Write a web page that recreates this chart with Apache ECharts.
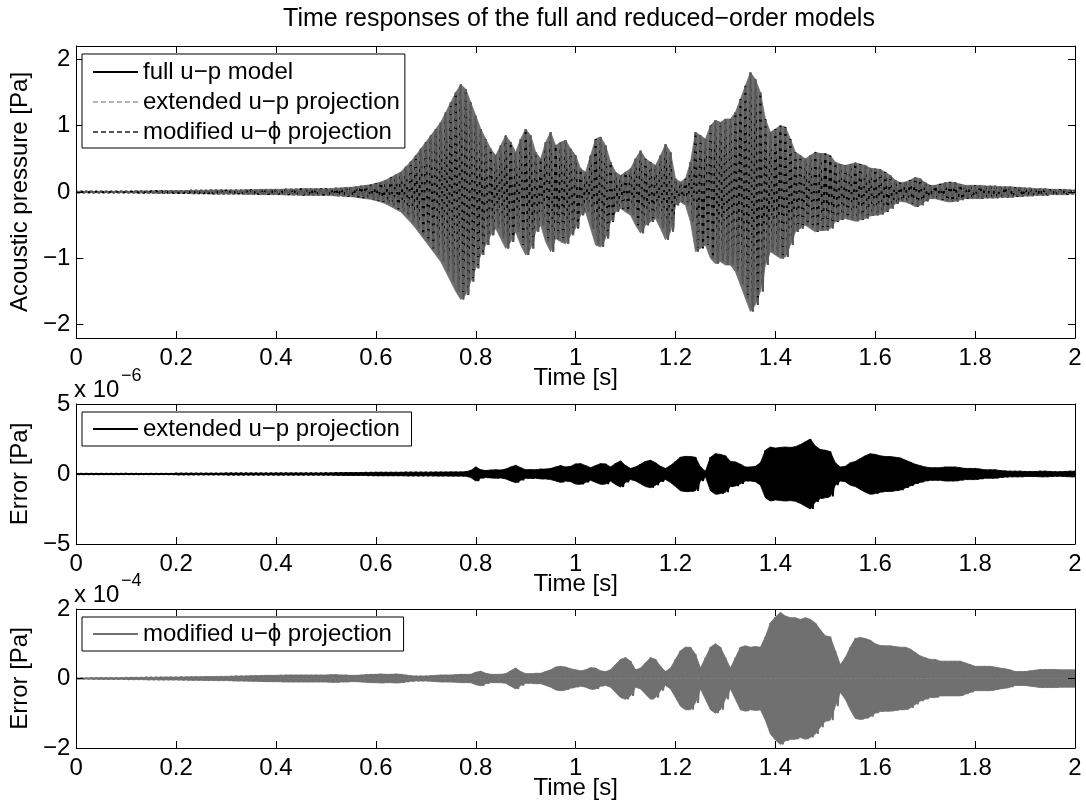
<!DOCTYPE html>
<html>
<head>
<meta charset="utf-8">
<script src="https://cdn.jsdelivr.net/npm/echarts@6/dist/echarts.min.js"></script>
<style>
html,body{margin:0;padding:0;background:#fff;}
#chart{width:1086px;height:805px;}
</style>
</head>
<body>
<div id="chart"></div>
<script>
// Sample step of the amplitude envelopes (s); one value per 0.01 s from 0 to 2 s
const sampleStep = 0.01;
const xTicks = [0, 0.2, 0.4, 0.6, 0.8, 1, 1.2, 1.4, 1.6, 1.8, 2];
const yTicksP = [-2, -1, 0, 1, 2];
const yTicksE1 = [-5, 0, 5];
const yTicksE2 = [-2, 0, 2];

// Panel 1: oscillation amplitude of acoustic pressure [Pa]
const ampPressure = [
 0.01,0.01,0.01,0.01,0.01,0.01,0.01,0.01,0.01,0.01,
 0.01,0.01,0.015,0.015,0.015,0.015,0.02,0.02,0.02,0.02,
 0.02,0.02,0.02,0.025,0.025,0.025,0.025,0.03,0.03,0.03,
 0.03,0.03,0.03,0.03,0.035,0.035,0.035,0.04,0.04,0.04,
 0.04,0.04,0.045,0.045,0.045,0.05,0.05,0.05,0.05,0.05,
 0.05,0.05,0.06,0.06,0.07,0.07,0.08,0.09,0.1,0.11,
 0.13,0.15,0.18,0.22,0.26,0.3,0.38,0.46,0.55,0.65,
 0.75,0.85,0.95,1.05,1.2,1.35,1.5,1.62,1.55,1.35,
 1.15,0.95,0.8,0.65,0.55,0.7,0.85,0.75,0.6,0.8,
 0.95,0.85,0.6,0.5,0.75,0.9,0.7,0.75,0.78,0.65,
 0.55,0.35,0.3,0.55,0.8,0.83,0.7,0.45,0.3,0.25,
 0.3,0.35,0.5,0.62,0.5,0.45,0.4,0.55,0.72,0.6,
 0.2,0.15,0.2,0.45,0.9,0.85,0.8,1.0,1.08,1.05,
 1.1,1.1,1.2,1.4,1.6,1.8,1.7,1.5,1.1,0.9,
 0.95,1.0,0.98,0.8,0.6,0.55,0.5,0.55,0.6,0.58,
 0.58,0.55,0.45,0.42,0.4,0.42,0.44,0.42,0.4,0.36,
 0.35,0.34,0.3,0.25,0.18,0.14,0.15,0.18,0.22,0.2,
 0.14,0.1,0.1,0.12,0.14,0.15,0.14,0.12,0.1,0.1,
 0.1,0.1,0.09,0.09,0.09,0.08,0.08,0.08,0.07,0.07,
 0.06,0.06,0.05,0.05,0.05,0.04,0.04,0.04,0.04,0.03,
 0.03
];

// Panel 2: error amplitude of extended u-p projection [x 1e-6 Pa]
const ampErrExt = [
 0.02,0.02,0.02,0.02,0.02,0.02,0.02,0.02,0.02,0.02,
 0.03,0.03,0.03,0.03,0.03,0.03,0.03,0.03,0.03,0.03,
 0.05,0.05,0.05,0.05,0.05,0.05,0.05,0.05,0.05,0.05,
 0.06,0.06,0.06,0.06,0.06,0.06,0.06,0.06,0.06,0.06,
 0.07,0.07,0.07,0.07,0.07,0.07,0.07,0.07,0.07,0.07,
 0.08,0.08,0.09,0.09,0.1,0.1,0.1,0.1,0.11,0.11,
 0.12,0.12,0.12,0.12,0.12,0.12,0.13,0.13,0.13,0.13,
 0.13,0.13,0.14,0.14,0.14,0.15,0.15,0.15,0.16,0.25,
 0.5,0.3,0.25,0.28,0.3,0.28,0.35,0.5,0.62,0.45,
 0.3,0.32,0.3,0.35,0.35,0.4,0.5,0.6,0.5,0.55,
 0.72,0.74,0.6,0.45,0.6,0.74,0.72,0.5,0.75,0.93,
 0.6,0.4,0.5,0.7,0.9,0.98,0.8,0.55,0.4,0.6,
 0.9,1.2,1.26,1.25,1.2,0.5,0.2,1.2,1.45,1.4,
 1.3,0.9,0.86,0.7,0.5,0.5,0.55,0.8,1.7,1.93,
 1.85,1.9,1.93,1.9,1.95,2.1,2.3,2.5,2.0,1.75,
 1.7,1.6,0.8,0.5,0.55,0.8,0.9,1.1,1.3,1.45,
 1.4,1.3,1.25,1.25,1.2,1.15,1.0,0.85,0.7,0.6,
 0.5,0.45,0.45,0.45,0.5,0.5,0.5,0.45,0.4,0.4,
 0.4,0.35,0.3,0.3,0.3,0.25,0.22,0.2,0.2,0.2,
 0.18,0.18,0.18,0.2,0.2,0.18,0.16,0.16,0.18,0.2,
 0.2
];

// Panel 3: error amplitude of modified u-phi projection [x 1e-4 Pa]
const ampErrMod = [
 0.01,0.01,0.01,0.015,0.015,0.02,0.02,0.02,0.02,0.02,
 0.025,0.03,0.03,0.03,0.035,0.035,0.035,0.04,0.04,0.04,
 0.04,0.045,0.045,0.05,0.05,0.05,0.055,0.055,0.06,0.06,
 0.06,0.065,0.07,0.07,0.075,0.08,0.08,0.085,0.09,0.09,
 0.09,0.095,0.1,0.1,0.1,0.1,0.1,0.1,0.1,0.1,
 0.1,0.11,0.11,0.1,0.1,0.09,0.09,0.1,0.11,0.12,
 0.12,0.13,0.12,0.12,0.13,0.12,0.1,0.08,0.07,0.07,
 0.07,0.08,0.09,0.1,0.1,0.1,0.11,0.12,0.12,0.12,
 0.18,0.21,0.15,0.12,0.12,0.12,0.14,0.22,0.3,0.2,
 0.14,0.14,0.15,0.15,0.2,0.25,0.33,0.35,0.33,0.28,
 0.25,0.22,0.25,0.31,0.3,0.22,0.2,0.25,0.4,0.55,
 0.6,0.5,0.25,0.3,0.45,0.6,0.55,0.35,0.2,0.3,
 0.55,0.8,0.9,0.9,0.7,0.3,0.6,0.9,1.0,0.9,
 0.6,0.3,0.6,0.9,0.94,0.9,0.92,0.9,1.2,1.6,
 1.77,1.9,1.8,1.75,1.75,1.7,1.75,1.7,1.6,1.4,
 1.23,1.2,0.8,0.4,0.6,0.9,1.15,1.18,1.15,1.1,
 1.0,0.95,0.94,0.94,0.92,0.9,0.9,0.85,0.75,0.65,
 0.6,0.55,0.55,0.5,0.5,0.5,0.5,0.5,0.45,0.4,
 0.35,0.35,0.35,0.35,0.33,0.3,0.28,0.25,0.2,0.2,
 0.2,0.22,0.24,0.26,0.26,0.26,0.26,0.25,0.25,0.25,
 0.25
];

// Oscillating trace: each envelope sample gives a crest and a trough
function oscillation(amps) {
  const pts = [];
  for (let i = 0; i < amps.length; i++) {
    const t = +(i * sampleStep).toFixed(3);
    pts.push([t, amps[i]]);
    if (i < amps.length - 1) pts.push([+(t + sampleStep / 2).toFixed(4), -amps[i]]);
  }
  return pts;
}
// Envelope (upper or lower) of the same samples
function envelope(amps, sign) {
  return amps.map((a, i) => [+(i * sampleStep).toFixed(3), sign * a]);
}

const FONT = "'Liberation Sans', Arial, Helvetica, sans-serif";
const fs = 24;
const minusFmt = v => String(v).replace('-', '\u2212');

const grids = [
  {left: 74, right: 11, top: 46, height: 292},
  {left: 74, right: 11, top: 404, height: 140},
  {left: 74, right: 11, top: 609, height: 139}
];

function xAxes(gi) {
  return [
    {type: 'value', gridIndex: gi, min: 0, max: 2, interval: 0.2, position: 'bottom',
     name: 'Time [s]', nameLocation: 'middle', nameGap: 28, nameMoveOverlap: false,
     nameTextStyle: {fontFamily: FONT, fontSize: fs, color: '#000', lineHeight: 24},
     axisLine: {show: true, onZero: false, lineStyle: {color: '#000', width: 1}},
     axisTick: {show: true, inside: true, length: 7, lineStyle: {color: '#000'}},
     axisLabel: {show: true, fontFamily: FONT, fontSize: fs, color: '#000', margin: 8},
     splitLine: {show: false}, z: 10},
    {type: 'value', gridIndex: gi, min: 0, max: 2, interval: 0.2, position: 'top',
     axisLine: {show: true, onZero: false, lineStyle: {color: '#000', width: 1}},
     axisTick: {show: true, inside: true, length: 7, lineStyle: {color: '#000'}},
     axisLabel: {show: false}, splitLine: {show: false}, z: 10}
  ];
}

function yAxes(gi, min, max, ticks, name) {
  const common = {type: 'value', gridIndex: gi, min: min, max: max, splitLine: {show: false}, z: 10};
  return [
    Object.assign({}, common, {position: 'left',
     name: name, nameLocation: 'middle', nameGap: 40,
     nameTextStyle: {fontFamily: FONT, fontSize: fs, color: '#000'},
     axisLine: {show: true, onZero: false, lineStyle: {color: '#000', width: 1}},
     axisTick: {show: true, inside: true, length: 7, customValues: ticks, lineStyle: {color: '#000'}},
     axisLabel: {show: true, customValues: ticks, fontFamily: FONT, fontSize: fs, color: '#000', margin: 6, formatter: minusFmt}}),
    Object.assign({}, common, {position: 'right',
     axisLine: {show: true, onZero: false, lineStyle: {color: '#000', width: 1}},
     axisTick: {show: true, inside: true, length: 7, customValues: ticks, lineStyle: {color: '#000'}},
     axisLabel: {show: false}})
  ];
}

const legendCommon = {
  orient: 'vertical', left: 82, backgroundColor: '#fff', borderColor: '#000', borderWidth: 1,
  borderRadius: 0, itemWidth: 45, itemHeight: 24, itemGap: 6, selectedMode: false,
  padding: [5, 5, 5, 10], z: 20,
  itemStyle: {color: 'transparent', borderWidth: 0, opacity: 0},
  lineStyle: {width: 2},
  textStyle: {fontFamily: FONT, fontSize: fs, color: '#000'}
};

const dataP = oscillation(ampPressure);
const dataE1 = oscillation(ampErrExt);
const dataE2 = oscillation(ampErrMod);

const lineCommon = {type: 'line', showSymbol: false, symbol: 'none', animation: false, silent: true};

function envSeries(amps, sign, axis, color) {
  return Object.assign({}, lineCommon, {name: 'env', xAxisIndex: axis, yAxisIndex: axis,
    data: envelope(amps, sign), z: 1,
    lineStyle: {width: 0.8, color: color}, itemStyle: {color: color},
    areaStyle: {color: color, opacity: 1, origin: 0}});
}

const option = {
  animation: false,
  backgroundColor: '#fff',
  title: {text: 'Time responses of the full and reduced\u2212order models', left: 574, top: 2,
    textAlign: 'center',
    textStyle: {fontFamily: FONT, fontSize: 25, fontWeight: 'normal', color: '#000'}},
  grid: grids,
  xAxis: [].concat(xAxes(0), xAxes(1), xAxes(2)),
  yAxis: [].concat(
    yAxes(0, -2.2, 2.2, yTicksP, 'Acoustic pressure [Pa]'),
    yAxes(1, -5, 5, yTicksE1, 'Error [Pa]'),
    yAxes(2, -2, 2, yTicksE2, 'Error [Pa]')),
  legend: [
    Object.assign({}, legendCommon, {top: 54, padding: [6, 5, 4, 10],
      data: ['full u\u2212p model', 'extended u\u2212p projection', 'modified u\u2212\u03d5 projection']}),
    Object.assign({}, legendCommon, {top: 412, data: ['extended u\u2212p projection ']}),
    Object.assign({}, legendCommon, {top: 617, data: ['modified u\u2212\u03d5 projection ']})
  ],
  graphic: [
    {type: 'text', left: 74, top: 378, style: {text: 'x 10', font: fs + 'px ' + FONT, fill: '#000'}},
    {type: 'text', left: 121, top: 367, style: {text: '\u22126', font: '18px ' + FONT, fill: '#000'}},
    {type: 'text', left: 74, top: 583, style: {text: 'x 10', font: fs + 'px ' + FONT, fill: '#000'}},
    {type: 'text', left: 121, top: 572, style: {text: '\u22124', font: '18px ' + FONT, fill: '#000'}}
  ],
  series: [
    envSeries(ampPressure, 1, 0, '#6e6e6e'),
    envSeries(ampPressure, -1, 0, '#6e6e6e'),
    Object.assign({}, lineCommon, {name: 'full u\u2212p model', xAxisIndex: 0, yAxisIndex: 0, data: dataP, z: 2,
      lineStyle: {color: '#000', width: 2}, itemStyle: {color: '#000'}}),
    Object.assign({}, lineCommon, {name: 'extended u\u2212p projection', xAxisIndex: 0, yAxisIndex: 0, data: dataP, z: 3,
      lineStyle: {color: '#b4b4b4', width: 2, type: [5, 3]}, itemStyle: {color: '#b4b4b4'}}),
    Object.assign({}, lineCommon, {name: 'modified u\u2212\u03d5 projection', xAxisIndex: 0, yAxisIndex: 0, data: dataP, z: 4,
      lineStyle: {color: '#555', width: 2, type: [5, 3]}, itemStyle: {color: '#555'}}),
    envSeries(ampErrExt, 1, 2, '#000'),
    envSeries(ampErrExt, -1, 2, '#000'),
    Object.assign({}, lineCommon, {name: 'extended u\u2212p projection ', xAxisIndex: 2, yAxisIndex: 2, data: dataE1, z: 2,
      lineStyle: {color: '#000', width: 2}, itemStyle: {color: '#000'}}),
    envSeries(ampErrMod, 1, 4, '#707070'),
    envSeries(ampErrMod, -1, 4, '#707070'),
    Object.assign({}, lineCommon, {name: 'modified u\u2212\u03d5 projection ', xAxisIndex: 4, yAxisIndex: 4, data: dataE2, z: 2,
      lineStyle: {color: '#707070', width: 2}, itemStyle: {color: '#707070'}})
  ]
};

const chart = echarts.init(document.getElementById('chart'), null, {renderer: 'canvas'});
chart.setOption(option);
</script>
</body>
</html>
